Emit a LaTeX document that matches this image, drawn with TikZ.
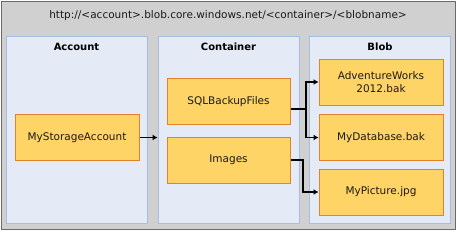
\documentclass[tikz,border=0pt]{standalone}
\usepackage{fontspec}
\setmainfont{DejaVu Sans}
\usetikzlibrary{arrows.meta}
\definecolor{outerfill}{HTML}{D0D0D0}
\definecolor{outerline}{HTML}{6A6A6A}
\definecolor{panelfill}{HTML}{E4EAF6}
\definecolor{panelline}{HTML}{A6BEE4}
\definecolor{boxfill}{HTML}{FFD466}
\definecolor{boxline}{HTML}{E0832C}
\definecolor{txt}{HTML}{1A1A1A}
\tikzset{
  panel/.style={draw=panelline, fill=panelfill, line width=1pt, minimum width=141pt, minimum height=187pt, inner sep=0pt},
  ptitle/.style={font=\fontsize{10}{12}\selectfont\bfseries, text=black, inner sep=0pt},
  itembox/.style={draw=boxline, fill=boxfill, line width=1pt, minimum width=124pt, minimum height=46pt, inner sep=1pt, align=center, font=\fontsize{10.5}{13.5}\selectfont, text=txt},
  arr/.style={draw=black, line width=1.3pt, -{Latex[length=5pt,width=6pt]}},
  conn/.style={draw=black, line width=1.3pt}
}
\begin{document}
\begin{tikzpicture}[x=1pt,y=-1pt]
\useasboundingbox (0,0) rectangle (457,231);
\node[draw=outerline, fill=outerfill, line width=1pt, minimum width=454pt, minimum height=228pt, inner sep=0pt] (outer) at (228,115) {};
\node[font=\fontsize{10.5}{12}\selectfont, text=txt, inner sep=0pt] (url) at (228,16) {http://<account>.blob.core.windows.net/<container>/<blobname>};
\node[panel] (acc) at (76.5,129.5) {};
\node[panel] (cont) at (228.5,129.5) {};
\node[panel] (blob) at (380,129.5) {};
\node[ptitle] (tacc) at (76.5,47) {Account};
\node[ptitle] (tcont) at (228.5,47) {Container};
\node[ptitle] (tblob) at (380,47) {Blob};
\node[itembox] (msa) at (77,137.5) {MyStorageAccount};
\node[itembox, minimum width=123pt] (sql) at (228.5,101.5) {SQLBackupFiles};
\node[itembox, minimum width=123pt] (img) at (228.5,160) {Images};
\node[itembox] (aw) at (381,82) {AdventureWorks\\2012.bak};
\node[itembox] (db) at (381,137.5) {MyDatabase.bak};
\node[itembox] (pic) at (381,192) {MyPicture.jpg};
\coordinate (j1) at (306,109);
\coordinate (j2) at (303,160);
\draw[arr] (msa.east) -- (cont.west |- msa.east);
\draw[conn] (sql.east |- j1) -- (j1);
\draw[arr] (j1) |- (aw.west);
\draw[arr] (j1) |- (db.west);
\draw[arr] (img.east) -- (j2) |- (pic.west);
\end{tikzpicture}
\end{document}
